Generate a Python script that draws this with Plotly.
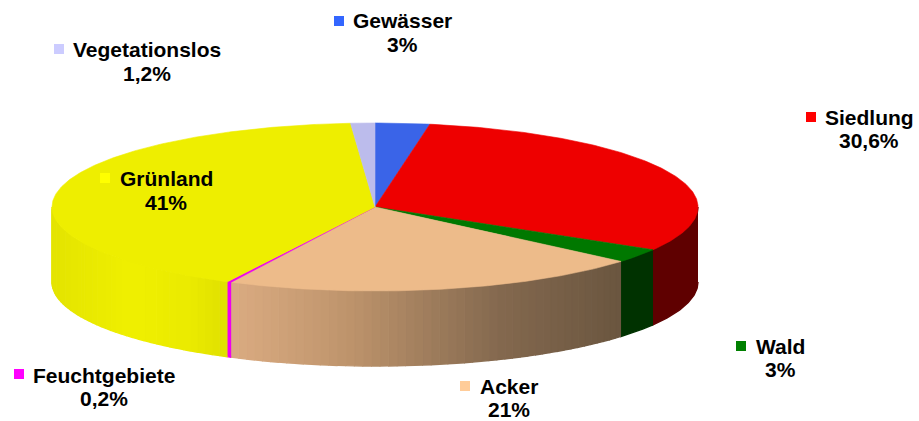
import numpy as np
import plotly.graph_objects as go

# ---- data ----
categories = ["Gewässer", "Siedlung", "Wald", "Acker", "Feuchtgebiete", "Grünland", "Vegetationslos"]
values = [2.7, 30.6, 2.7, 21, 0.2, 41, 1.2]
value_labels = ["3%", "30,6%", "3%", "21%", "0,2%", "41%", "1,2%"]

# ---- style ----
top_colors = ["#3A64E8", "#EE0000", "#007800", "#EDBB8A", "#EE00EE", "#EEEE00", "#BCBCEC"]
legend_colors = ["#3366FF", "#FF0000", "#008000", "#FFCC99", "#FF00FF", "#FFFF00", "#CCCCFF"]
wall_stops = [
    [(0, (40, 70, 160))],
    [(0, (95, 0, 0))],
    [(0, (0, 50, 0))],
    [(230, (219, 172, 130)), (350, (190, 148, 108)), (500, (132, 105, 79)), (620, (107, 86, 64))],
    [(0, (238, 0, 238))],
    [(52, (228, 228, 0)), (130, (240, 240, 0)), (190, (235, 235, 0)), (228, (224, 224, 0))],
    [(0, (180, 180, 220))],
]
CX, CY, RX, RY, DEPTH = 375, 207, 323, 84, 75
label_layout = {
    "Gewässer": (339, 21, 402, 20.5, 44.5),
    "Siedlung": (811, 117, 869, 117.5, 140.5),
    "Wald": (741, 346, 780, 346.5, 369.5),
    "Acker": (465, 386, 509, 386.5, 409.5),
    "Feuchtgebiete": (19, 374, 104, 375.5, 398.5),
    "Grünland": (105, 178, 166, 178.5, 202.5),
    "Vegetationslos": (59, 49, 147, 49.5, 73.5),
}
FONT = dict(family="Liberation Sans", size=21, color="#000000")


def ex(t):
    return CX + RX * np.sin(np.radians(t))


def ey(t, drop=0):
    return CY - RY * np.cos(np.radians(t)) + drop


def shade(stops, x):
    if len(stops) == 1:
        return "rgb(%d,%d,%d)" % stops[0][1]
    xs = [s[0] for s in stops]
    rgb = [np.interp(x, xs, [s[1][i] for s in stops]) for i in range(3)]
    return "rgb(%d,%d,%d)" % tuple(rgb)


def poly(xs, ys, color, width=0.6):
    return go.Scatter(x=xs, y=ys, mode="lines", fill="toself", fillcolor=color,
                      line=dict(color=color, width=width), hoverinfo="skip", showlegend=False)


fig = go.Figure()
cum = np.concatenate([[0], np.cumsum(values)]) / sum(values) * 360

# side wall (only the front half of the disc is visible)
for i, cat in enumerate(categories):
    a, b = max(cum[i], 90), min(cum[i + 1], 270)
    if b <= a:
        continue
    # uniformly shaded pieces need only one polygon
    n = 1 if len(wall_stops[i]) == 1 else max(1, int((b - a) / 1.5))
    edges = np.linspace(a, b, n + 1)
    for t0, t1 in zip(edges[:-1], edges[1:]):
        tt = np.linspace(t0, t1, max(3, int(t1 - t0) * 2))
        xs = list(ex(tt)) + list(ex(tt[::-1]))
        ys = list(ey(tt)) + list(ey(tt[::-1], DEPTH))
        fig.add_trace(poly(xs, ys, shade(wall_stops[i], float(ex((t0 + t1) / 2))), width=1.4))

# top face
for i, cat in enumerate(categories):
    tt = np.linspace(cum[i], cum[i + 1], max(3, int(cum[i + 1] - cum[i]) * 2))
    xs = [CX] + list(ex(tt)) + [CX]
    ys = [CY] + list(ey(tt)) + [CY]
    fig.add_trace(poly(xs, ys, top_colors[i]))

# legend squares
fig.add_trace(go.Scatter(
    x=[label_layout[c][0] for c in categories],
    y=[label_layout[c][1] for c in categories],
    mode="markers",
    marker=dict(symbol="square", size=10, color=legend_colors, line=dict(width=0)),
    hoverinfo="skip", showlegend=False))

# labels
for cat, pct in zip(categories, value_labels):
    _, _, tx, y1, y2 = label_layout[cat]
    for text, y in ((cat, y1), (pct, y2)):
        fig.add_annotation(x=tx, y=y, text=f"<b>{text}</b>", showarrow=False, font=FONT,
                           xanchor="center", yanchor="middle")

fig.update_layout(
    width=919, height=421, margin=dict(l=0, r=0, t=0, b=0),
    paper_bgcolor="white", plot_bgcolor="white", showlegend=False,
    xaxis=dict(range=[0, 919], visible=False, fixedrange=True),
    yaxis=dict(range=[421, 0], visible=False, fixedrange=True),
)
fig.write_html("out.html", config=dict(displayModeBar=False),
               post_script="document.body.style.margin='0';document.body.style.overflow='hidden';")
